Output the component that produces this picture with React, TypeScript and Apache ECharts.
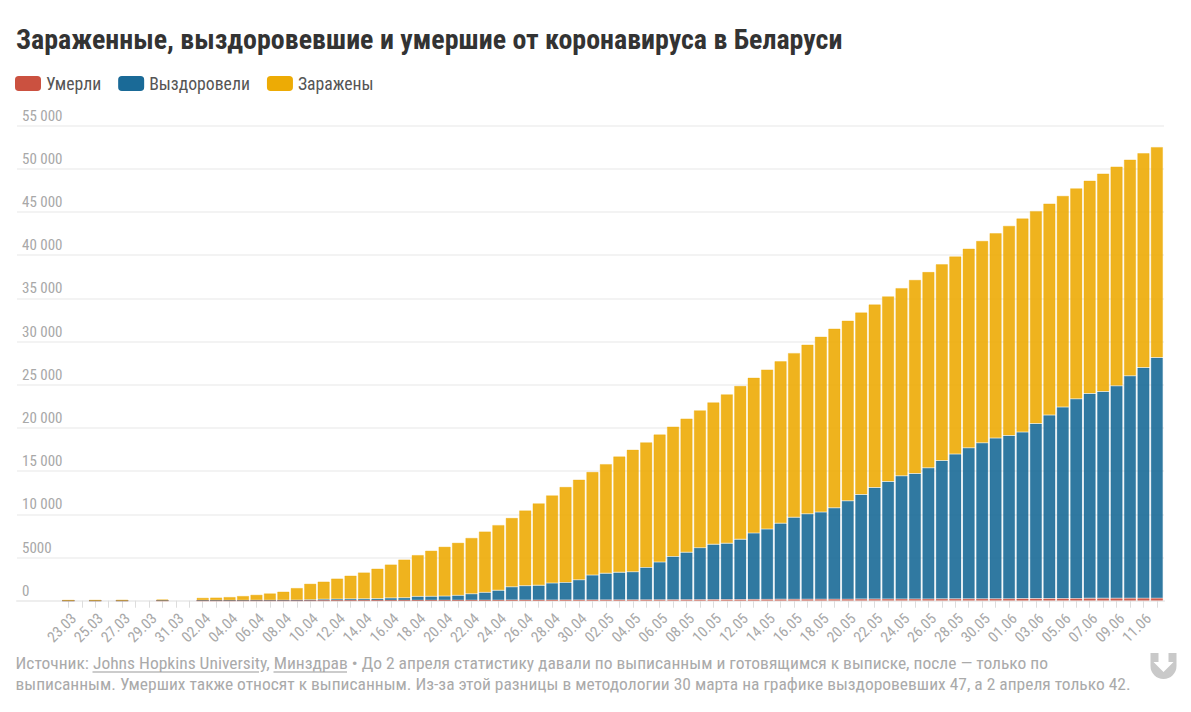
import React, { useEffect, useRef } from "react";
import * as echarts from "echarts";

const TITLE = "Зараженные, выздоровевшие и умершие от коронавируса в Беларуси";
const NOTE_1 = "Источник: Johns Hopkins University, Минздрав • До 2 апреля статистику давали по выписанным и готовящимся к выписке, после — только по";
const NOTE_2 = "выписанным. Умерших также относят к выписанным. Из-за этой разницы в методологии 30 марта на графике выздоровевших 47, а 2 апреля только 42.";

const dates = [
  "23.03","24.03","25.03","26.03","27.03","28.03","29.03","30.03","31.03","01.04",
  "02.04","03.04","04.04","05.04","06.04","07.04","08.04","09.04","10.04","11.04","12.04","13.04","14.04","15.04","16.04","17.04","18.04","19.04","20.04","21.04","22.04","23.04","24.04","25.04","26.04","27.04","28.04","29.04","30.04",
  "01.05","02.05","03.05","04.05","05.05","06.05","07.05","08.05","09.05","10.05","11.05","12.05","13.05","14.05","15.05","16.05","17.05","18.05","19.05","20.05","21.05","22.05","23.05","24.05","25.05","26.05","27.05","28.05","29.05","30.05","31.05",
  "01.06","02.06","03.06","04.06","05.06","06.06","07.06","08.06","09.06","10.06","11.06","12.06",
];

const totals: (number | null)[] = [
  76,null,81,null,94,null,null,152,null,null,
  351,380,440,562,700,861,1066,1486,1981,2226,2578,2919,3281,3728,4204,4779,5297,5807,6264,6723,7281,8022,8773,9590,10463,11289,12208,13181,14027,
  14917,15828,16705,17489,18350,19255,20168,21101,22052,22973,23906,24873,25825,26772,27730,28681,29650,30572,31508,32426,33371,34303,35244,36198,37144,38059,38956,39858,40764,41658,42556,
  43403,44255,45116,45981,46868,47751,48630,49453,50265,51066,51816,52520,
];

const recovered: (number | null)[] = [
  0,null,0,null,0,null,null,47,null,null,
  42,42,42,42,48,48,53,67,100,150,170,190,195,210,290,310,455,460,490,565,750,905,1135,1550,1670,1700,1970,2035,2340,
  2880,3070,3180,3255,3750,4370,5010,5480,6015,6390,6505,6960,7695,8150,8795,9490,9905,10100,10595,11400,12115,12920,13606,14260,14526,15180,16016,16750,17476,18050,18585,
  18890,19274,20260,21225,22150,23105,23720,23945,24600,25745,26700,27850,
];

const deaths: (number | null)[] = [
  0,null,0,null,0,null,null,0,null,null,
  3,4,5,8,13,13,13,16,19,23,26,29,33,36,40,42,45,47,51,55,58,60,63,67,72,75,79,84,89,
  93,97,99,103,107,112,116,121,126,131,135,142,146,151,156,160,165,171,175,179,185,190,194,199,204,208,214,219,224,229,235,
  240,246,250,255,260,265,271,276,282,287,293,298,
];

const infected = totals.map((t, i) =>
  t === null ? null : t - (recovered[i] as number) - (deaths[i] as number)
);

const COND = '"Roboto Condensed", "Liberation Sans Narrow", Roboto, sans-serif';

function fit(text: string, font: string, width: number) {
  const ctx = document.createElement("canvas").getContext("2d") as CanvasRenderingContext2D;
  ctx.font = font;
  return width / ctx.measureText(text).width;
}

function tickFormat(v: number) {
  return v >= 10000 ? String(v).replace(/(\d{3})$/, " $1") : String(v);
}

const LOGO = "M0 0 H8 V9 H3 L13 19 L23 9 H18 V0 H26 V13 A13 13 0 0 1 0 13 Z";

export default function App() {
  const ref = useRef<HTMLDivElement>(null);
  useEffect(() => {
    const chart = echarts.init(ref.current as HTMLDivElement, undefined, { renderer: "svg" });
    echarts.graphic.registerShape("logo", echarts.graphic.extendPath(LOGO, {}));
    const titleFont = `bold 28px ${COND}`;
    const noteFont = `17px ${COND}`;
    const bar = (name: string, data: (number | null)[], color: string, border: string) => ({
      name,
      type: "bar",
      stack: "all",
      data,
      barWidth: 12.4,
      xAxisIndex: 0,
      yAxisIndex: 0,
      itemStyle: { color, opacity: 0.9, borderColor: border, borderWidth: 1 },
    });
    chart.setOption({
      animation: false,
      backgroundColor: "#fff",
      textStyle: { fontFamily: COND },
      legend: {
        left: 15,
        top: 74.5,
        padding: 0,
        itemWidth: 26,
        itemHeight: 15,
        itemGap: 17,
        icon: "roundRect",
        data: ["Умерли", "Выздоровели", "Заражены"],
        textStyle: { fontFamily: COND, fontSize: 17.7, color: "#555" },
        itemStyle: { opacity: 1, borderWidth: 0 },
      },
      grid: [
        { left: 61.6, width: 1102, top: 125.5, height: 475.2, containLabel: false },
        { left: 17, width: 1147, top: 125.5, height: 475.2, containLabel: false },
      ],
      xAxis: [
        {
          type: "category",
          gridIndex: 0,
          data: dates,
          axisLine: { show: true, lineStyle: { color: "#eee", width: 2 } },
          axisTick: { show: true, alignWithLabel: true, interval: 0, length: 7, lineStyle: { color: "#ddd", width: 1 } },
          axisLabel: { interval: 1, rotate: 45, fontSize: 15, color: "#a8a8a8", margin: 10, verticalAlign: "top", fontFamily: COND },
        },
        {
          type: "category",
          gridIndex: 1,
          data: dates,
          axisLine: { show: true, lineStyle: { color: "#eee", width: 2 } },
          axisTick: { show: false },
          axisLabel: { show: false },
        },
      ],
      yAxis: [
        {
          type: "value",
          gridIndex: 0,
          min: 0,
          max: 55000,
          interval: 5000,
          axisLine: { show: false },
          axisTick: { show: false },
          axisLabel: { show: false },
          splitLine: { show: false },
        },
        {
          type: "value",
          gridIndex: 1,
          min: 0,
          max: 55000,
          interval: 5000,
          axisLine: { show: false },
          axisTick: { show: false },
          splitLine: { show: true, lineStyle: { color: "#efefef", width: 1.5 } },
          axisLabel: {
            inside: true,
            margin: 5,
            align: "left",
            verticalAlign: "bottom",
            lineHeight: 20,
            fontSize: 15,
            color: "#a8a8a8",
            fontFamily: COND,
            formatter: tickFormat,
          },
        },
      ],
      series: [
        bar("Умерли", deaths, "#CB5140", "rgba(203,81,64,0.5)"),
        bar("Выздоровели", recovered, "#1A6A97", "rgba(26,106,151,0.3)"),
        bar("Заражены", infected, "#EDAB05", "rgba(237,171,5,0.4)"),
      ],
      graphic: [
        {
          type: "text",
          x: 16,
          y: 25,
          scaleX: fit(TITLE, titleFont, 826.5),
          style: { text: TITLE, font: titleFont, fill: "#333" },
        },
        {
          type: "text",
          x: 15.5,
          y: 655,
          scaleX: fit(NOTE_1, noteFont, 1033),
          style: { text: NOTE_1, font: noteFont, fill: "#aaa" },
        },
        {
          type: "text",
          x: 15.5,
          y: 676,
          scaleX: fit(NOTE_2, noteFont, 1116),
          style: { text: NOTE_2, font: noteFont, fill: "#aaa" },
        },
        { type: "line", shape: { x1: 92.5, y1: 672, x2: 259, y2: 672 }, style: { stroke: "#999", lineWidth: 1 } },
        { type: "line", shape: { x1: 273.5, y1: 672, x2: 347, y2: 672 }, style: { stroke: "#999", lineWidth: 1 } },
        { type: "logo", x: 1150.5, y: 653, style: { fill: "#c9c9c9" } },
      ],
    });
    return () => chart.dispose();
  }, []);
  return <div ref={ref} style={{ position: "absolute", left: 0, top: 0, width: 1191, height: 712 }} />;
}
